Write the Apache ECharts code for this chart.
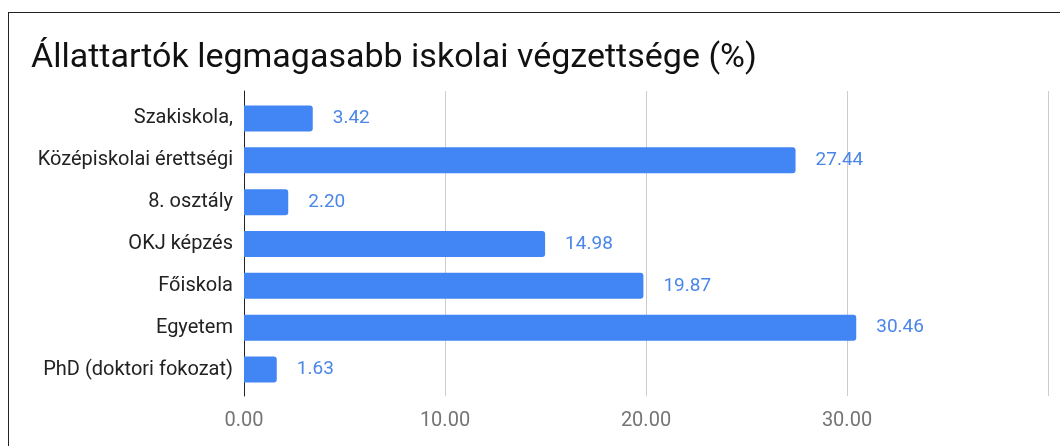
<!DOCTYPE html>
<html>
<head>
<meta charset="utf-8">
<script src="https://cdn.jsdelivr.net/npm/echarts@6/dist/echarts.min.js"></script>
<style>
  html, body { margin: 0; padding: 0; background: #fff; overflow: hidden; }
  #frame { position: absolute; left: 8px; top: 12px; width: 1100px; height: 500px; border: 1px solid #222; box-sizing: border-box; }
  #chart { position: absolute; left: 0; top: 0; width: 1060px; height: 446px; }
</style>
</head>
<body>
<div id="frame"></div>
<div id="chart"></div>
<script>
// kategóriák és értékek (%)
const categories = ['Szakiskola,', 'Középiskolai érettségi', '8. osztály', 'OKJ képzés', 'Főiskola', 'Egyetem', 'PhD (doktori fokozat)']
const values = [3.42, 27.44, 2.20, 14.98, 19.87, 30.46, 1.63]
const xTicks = ['0.00', '10.00', '20.00', '30.00', '']

const chart = echarts.init(document.getElementById('chart'))

const option = {
  animation: false,
  textStyle: { fontFamily: 'Roboto' },
  title: {
    text: 'Állattartók legmagasabb iskolai végzettsége (%)',
    left: 31,
    top: 41,
    padding: 0,
    textStyle: { fontSize: 34, fontWeight: 'normal', color: '#111', fontFamily: 'Roboto' }
  },
  // grid 0: rácsvonalak és tengelyfeliratok, grid 1: oszlopok
  grid: [
    { left: 244, right: 12, top: 91, height: 305 },
    { left: 244, right: 12, top: 97.5, height: 293 }
  ],
  xAxis: [
    {
      gridIndex: 0,
      type: 'value',
      min: 0,
      max: 40,
      interval: 10,
      axisLine: { show: false },
      axisTick: { show: false },
      splitLine: { lineStyle: { color: '#cccccc', width: 1 } },
      axisLabel: {
        color: '#757575',
        fontSize: 20,
        margin: 15,
        formatter: (v) => xTicks[Math.round(v / 10)]
      }
    },
    {
      gridIndex: 1,
      type: 'value',
      min: 0,
      max: 40,
      show: false
    }
  ],
  yAxis: [
    {
      gridIndex: 0,
      type: 'category',
      data: [''],
      axisLine: { show: true, lineStyle: { color: '#222', width: 1 } },
      axisTick: { show: false },
      axisLabel: { show: false }
    },
    {
      gridIndex: 1,
      type: 'category',
      inverse: true,
      data: categories,
      axisLine: { show: false },
      axisTick: { show: false },
      axisLabel: { color: '#222', fontSize: 20, margin: 11 }
    }
  ],
  series: [
    {
      type: 'bar',
      xAxisIndex: 1,
      yAxisIndex: 1,
      data: values,
      barWidth: 26,
      itemStyle: { color: '#4285f4', borderRadius: [0, 3, 3, 0] },
      label: {
        show: true,
        position: 'right',
        distance: 20,
        color: '#4a86e8',
        fontSize: 19,
        formatter: (p) => p.value.toFixed(2)
      }
    }
  ]
}

chart.setOption(option)
</script>
</body>
</html>
